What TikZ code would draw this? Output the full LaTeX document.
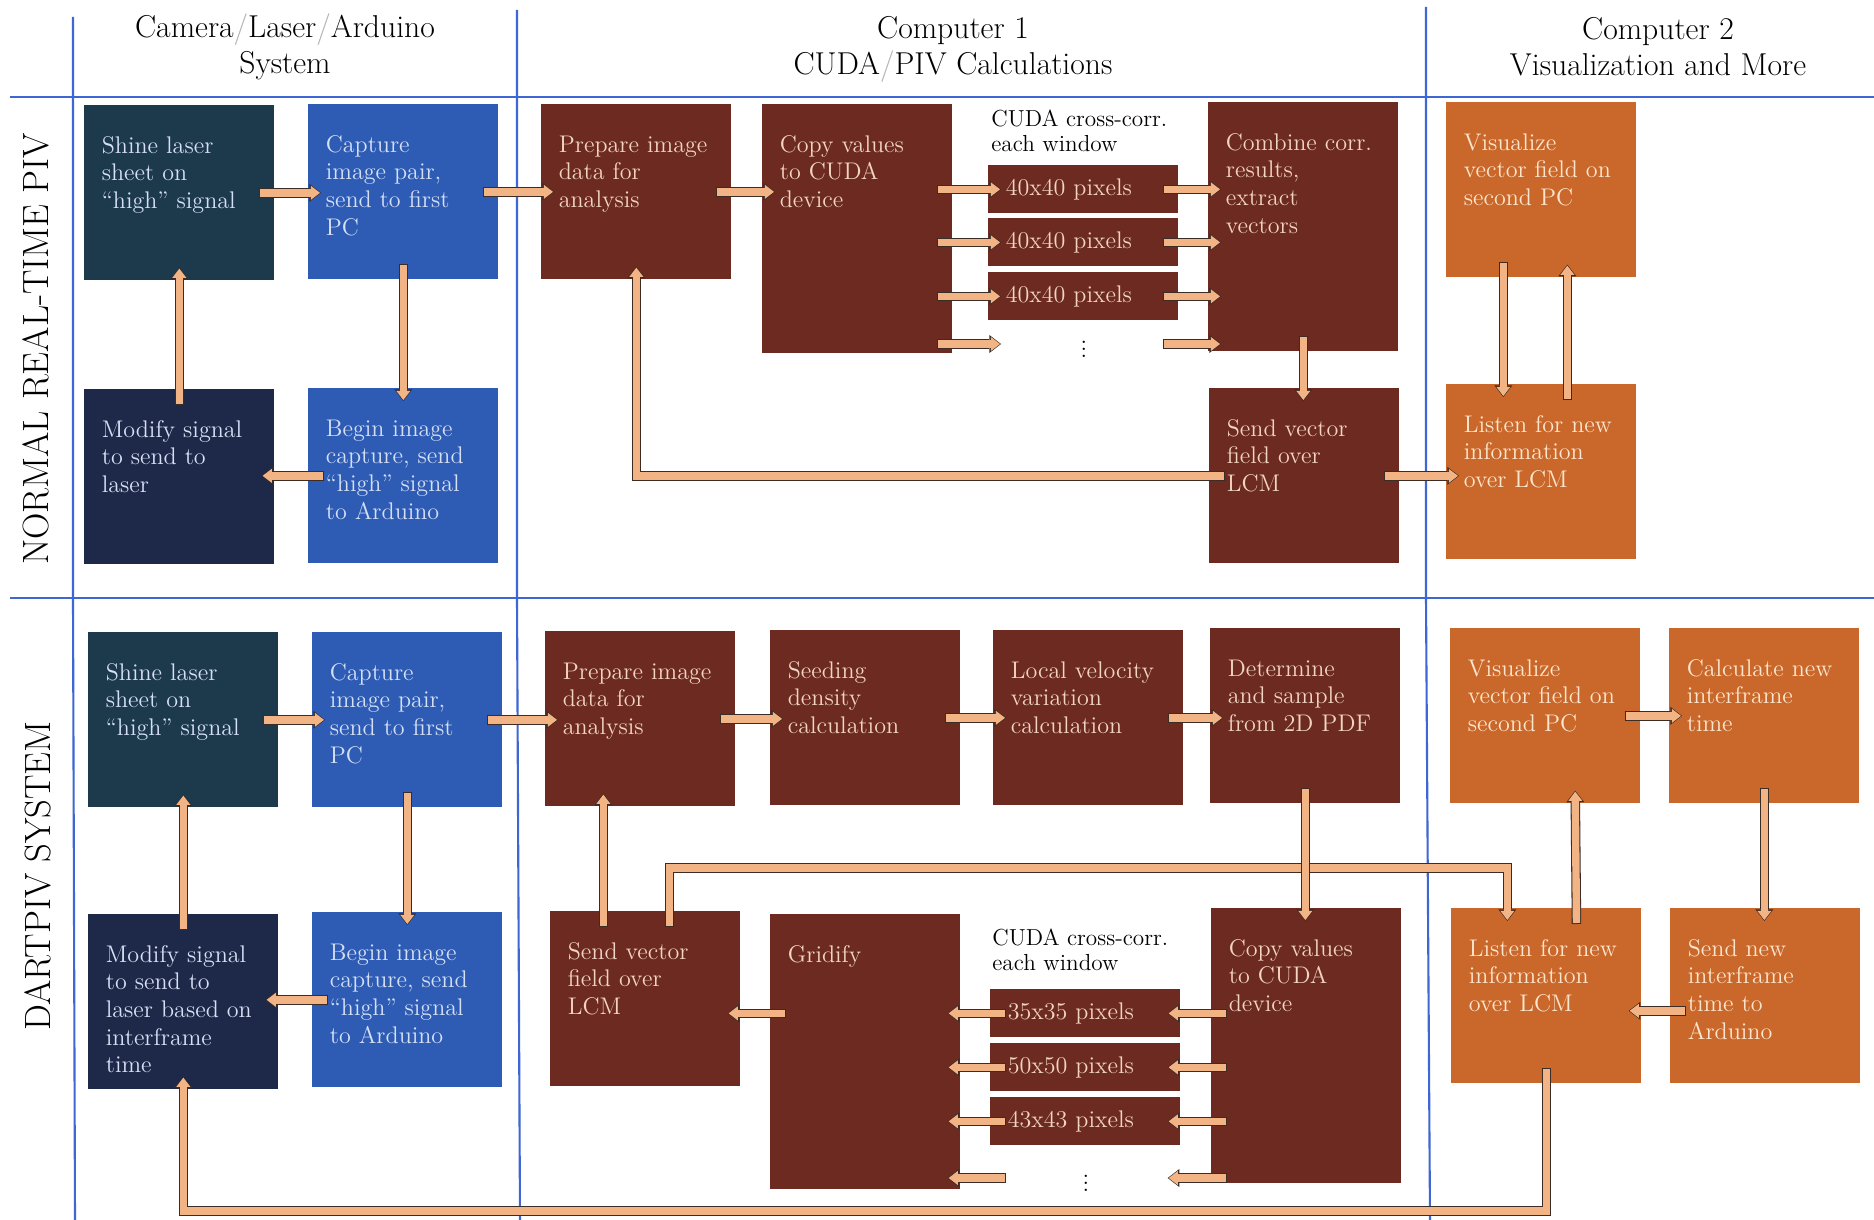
\documentclass[tikz,border=0pt]{standalone}
\usepackage{fontspec}
\usepackage{tikz}
\usetikzlibrary{arrows.meta, positioning, calc}

\definecolor{laserTeal}{RGB}{29, 57, 76}
\definecolor{laserNavy}{RGB}{30, 41, 73}
\definecolor{camBlue}{RGB}{46, 92, 180}
\definecolor{pcOneBrown}{RGB}{108, 42, 32}
\definecolor{pcTwoOrange}{RGB}{202, 104, 44}
\definecolor{gridLine}{RGB}{62, 102, 212}
\definecolor{arrowFill}{RGB}{242, 180, 132}
\definecolor{arrowEdge}{RGB}{60, 44, 38}
\definecolor{txtBlue}{RGB}{214, 224, 245}
\definecolor{txtBrown}{RGB}{242, 212, 196}
\definecolor{txtOrange}{RGB}{252, 230, 205}

\newcommand{\boxfont}{\fontsize{13.7}{15.7}\selectfont}
\newcommand{\colheadfont}{\fontsize{18}{20.5}\selectfont}
\newcommand{\rowlabelfont}{\fontsize{20.8}{22}\selectfont}
\newcommand{\cudafont}{\fontsize{13.2}{14}\selectfont}
\newcommand{\fadeslash}{{\color{black!30}/}}

\tikzset{
    blk/.style={rectangle, anchor=north west, inner xsep=0.35cm, inner ysep=0pt,
        text width=3.1cm, align=left, text height=0.96cm, text depth=2.54cm, font=\boxfont},
    tallblk/.style={blk, text depth=4.02cm},
    longblk/.style={blk, text depth=4.54cm},
    pixblk/.style={rectangle, anchor=north west, inner xsep=0.35cm, inner ysep=0pt,
        text width=3.1cm, align=left, minimum height=0.96cm, font=\boxfont},
    tealbox/.style={fill=laserTeal, text=txtBlue},
    navybox/.style={fill=laserNavy, text=txtBlue},
    bluebox/.style={fill=camBlue, text=txtBlue},
    brownbox/.style={fill=pcOneBrown, text=txtBrown},
    orangebox/.style={fill=pcTwoOrange, text=txtOrange},
    moreDots/.style={inner sep=0pt, font=\boxfont},
    sepLine/.style={gridLine, line width=1.2pt},
    colHead/.style={font=\colheadfont, align=center},
    rowHead/.style={font=\rowlabelfont, rotate=90},
    cudaNote/.style={anchor=north west, inner sep=0pt, align=left, font=\cudafont},
    fat/.style={draw=arrowFill, line width=4.2pt, shorten <=-0.3cm, shorten >=-0.24cm,
        -{Triangle[length=5.2pt, width=8pt, line width=0pt]},
        preaction={draw=arrowEdge, line width=5.4pt, shorten <=-0.32cm, shorten >=-0.26cm,
            -{Triangle[length=6.6pt, width=10.2pt, line width=0pt]}}},
}

\begin{document}
\begin{tikzpicture}[x=0.02cm, y=-0.02cm]
    \useasboundingbox (0,0) rectangle (1874,1220);

    % TABLE LINES
    \draw[sepLine] (10,97) -- (1874,97);
    \draw[sepLine] (10,598) -- (1874,598);
    \draw[sepLine] (73,17) -- (73,598) -- (75,1220);
    \draw[sepLine] (517,10) -- (517,598) -- (520,1220);
    \draw[sepLine] (1426,7) -- (1426,598) -- (1430,1220);

    % HEADERS
    \node[colHead] (hCam) at (285,47) {Camera\fadeslash Laser\fadeslash Arduino\\System};
    \node[colHead] (hPcOne) at (953,49) {Computer 1\\CUDA\fadeslash PIV Calculations};
    \node[colHead] (hPcTwo) at (1658,47) {Computer 2\\Visualization and More};
    \node[rowHead] (hNormal) at (36,349) {NORMAL REAL-TIME PIV};
    \node[rowHead] (hDart) at (38,876) {DARTPIV SYSTEM};

    % NORMAL REAL-TIME PIV: BOXES
    \node[blk, tealbox] (shine1) at (84,105) {Shine laser\\sheet on\\“high” signal};
    \node[blk, bluebox] (capt1) at (308,104) {Capture\\image pair,\\send to first\\PC};
    \node[blk, navybox] (modify1) at (84,389) {Modify signal\\to send to\\laser};
    \node[blk, bluebox] (begin1) at (308,388) {Begin image\\capture, send\\“high” signal\\to Arduino};

    \node[blk, brownbox] (prep1) at (541,104) {Prepare image\\data for\\analysis};
    \node[tallblk, brownbox] (copy1) at (762,104) {Copy values\\to CUDA\\device};
    \node[cudaNote] (cuda1) at (991,110) {CUDA cross-corr.\\each window};
    \node[pixblk, brownbox] (pix1a) at (988,165) {40x40 pixels};
    \node[pixblk, brownbox] (pix1b) at (988,218) {40x40 pixels};
    \node[pixblk, brownbox] (pix1c) at (988,272) {40x40 pixels};
    \node[moreDots] (dots1) at (1084,344) {$\vdots$};
    \node[tallblk, brownbox] (combine1) at (1208,102) {Combine corr.\\results,\\extract\\vectors};
    \node[blk, brownbox] (send1) at (1209,388) {Send vector\\field over\\LCM};

    \node[blk, orangebox] (vis1) at (1446,102) {Visualize\\vector field on\\second PC};
    \node[blk, orangebox] (listen1) at (1446,384) {Listen for new\\information\\over LCM};

    % NORMAL REAL-TIME PIV: ARROWS
    \draw[fat] (shine1.east) -- (shine1.east -| capt1.west);
    \draw[fat] (capt1.south) -- (capt1.south |- begin1.north);
    \draw[fat] (begin1.west) -- (begin1.west -| modify1.east);
    \draw[fat] (modify1.north) -- (modify1.north |- shine1.south);
    \draw[fat] (capt1.east) -- (capt1.east -| prep1.west);
    \draw[fat] (prep1.east) -- (prep1.east -| copy1.west);
    \foreach \p in {pix1a, pix1b, pix1c, dots1} {
        \draw[fat] (copy1.east |- \p) -- (pix1a.west |- \p);
        \draw[fat] (pix1a.east |- \p) -- (combine1.west |- \p);
    }
    \draw[fat] (combine1.south) -- (combine1.south |- send1.north);
    \draw[fat] (send1.west) -| (prep1.south);
    \draw[fat] (send1.east) -- (send1.east -| listen1.west);
    \draw[fat] ([xshift=-0.76cm]vis1.south) -- ([xshift=-0.76cm]listen1.north);
    \draw[fat] ([xshift=0.52cm]listen1.north) -- ([xshift=0.52cm]vis1.south);

    % DARTPIV SYSTEM: BOXES
    \node[blk, tealbox] (shine2) at (88,632) {Shine laser\\sheet on\\“high” signal};
    \node[blk, bluebox] (capt2) at (312,632) {Capture\\image pair,\\send to first\\PC};
    \node[blk, navybox] (modify2) at (88,914) {Modify signal\\to send to\\laser based on\\interframe\\time};
    \node[blk, bluebox] (begin2) at (312,912) {Begin image\\capture, send\\“high” signal\\to Arduino};

    \node[blk, brownbox] (prep2) at (545,631) {Prepare image\\data for\\analysis};
    \node[blk, brownbox] (seed2) at (770,630) {Seeding\\density\\calculation};
    \node[blk, brownbox] (local2) at (993,630) {Local velocity\\variation\\calculation};
    \node[blk, brownbox] (det2) at (1210,628) {Determine\\and sample\\from 2D PDF};
    \node[blk, brownbox] (sendv2) at (550,911) {Send vector\\field over\\LCM};
    \node[longblk, brownbox] (grid2) at (770,914) {Gridify};
    \node[cudaNote] (cuda2) at (992,929) {CUDA cross-corr.\\each window};
    \node[pixblk, brownbox] (pix2a) at (990,989) {35x35 pixels};
    \node[pixblk, brownbox] (pix2b) at (990,1043) {50x50 pixels};
    \node[pixblk, brownbox] (pix2c) at (990,1097) {43x43 pixels};
    \node[moreDots] (dots2) at (1086,1178) {$\vdots$};
    \node[longblk, brownbox] (copy2) at (1211,908) {Copy values\\to CUDA\\device};

    \node[blk, orangebox] (vis2) at (1450,628) {Visualize\\vector field on\\second PC};
    \node[blk, orangebox] (calc2) at (1669,628) {Calculate new\\interframe\\time};
    \node[blk, orangebox] (listen2) at (1451,908) {Listen for new\\information\\over LCM};
    \node[blk, orangebox] (sendnew2) at (1670,908) {Send new\\interframe\\time to\\Arduino};

    % DARTPIV SYSTEM: ARROWS
    \coordinate (busTop) at (0,868);
    \coordinate (busBot) at (0,1211);
    \coordinate (lisIn) at ([xshift=-0.78cm]listen2.north);
    \coordinate (sendUp) at ([xshift=-0.84cm]sendv2.north);

    \draw[fat] (shine2.east) -- (shine2.east -| capt2.west);
    \draw[fat] (capt2.south) -- (capt2.south |- begin2.north);
    \draw[fat] (begin2.west) -- (begin2.west -| modify2.east);
    \draw[fat] (modify2.north) -- (modify2.north |- shine2.south);
    \draw[fat] (capt2.east) -- (capt2.east -| prep2.west);
    \draw[fat] (prep2.east) -- (prep2.east -| seed2.west);
    \draw[fat] (seed2.east) -- (seed2.east -| local2.west);
    \draw[fat] (local2.east) -- (local2.east -| det2.west);
    \draw[fat] ([xshift=0.48cm]sendv2.north) |- (lisIn |- busTop) -- (lisIn);
    \draw[fat] (det2.south) -- (det2.south |- copy2.north);
    \foreach \p in {pix2a, pix2b, pix2c, dots2} {
        \draw[fat] (copy2.west |- \p) -- (pix2a.east |- \p);
        \draw[fat] (pix2a.west |- \p) -- (grid2.east |- \p);
    }
    \draw[fat] (grid2.west |- pix2a) -- (sendv2.east |- pix2a);
    \draw[fat] (sendUp) -- (sendUp |- prep2.south);
    \draw[fat] (vis2.east) -- (vis2.east -| calc2.west);
    \draw[fat] (calc2.south) -- (calc2.south |- sendnew2.north);
    \draw[fat] ([yshift=-0.3cm]sendnew2.west) -- ([yshift=-0.3cm]listen2.east);
    \draw[fat] ([xshift=0.6cm]listen2.north) -- ([xshift=0.6cm]vis2.south);
    \draw[fat] (listen2.south) |- (modify2.south |- busBot) -- (modify2.south);

\end{tikzpicture}
\end{document}
